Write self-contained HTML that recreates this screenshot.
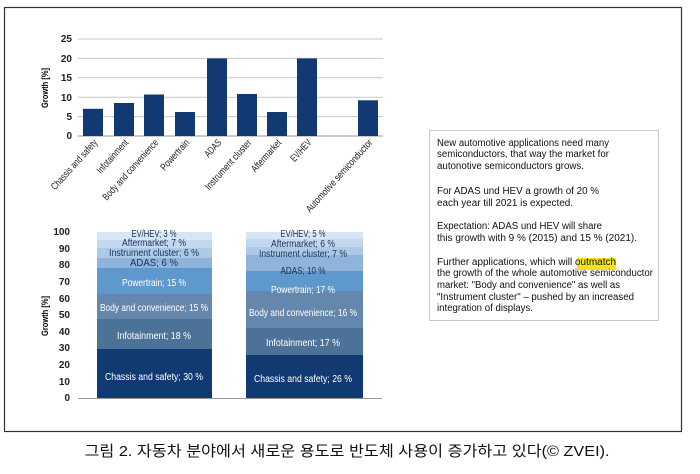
<!DOCTYPE html>
<html><head><meta charset="utf-8"><style>
html,body{margin:0;padding:0;background:#fff;width:700px;height:474px;overflow:hidden}
svg{display:block}
text{font-family:"Liberation Sans",sans-serif}
</style></head><body>
<svg width="700" height="474" viewBox="0 0 700 474" xmlns="http://www.w3.org/2000/svg">
<rect x="4.5" y="7.5" width="677" height="424" fill="#fff" stroke="#333" stroke-width="1.2"/>
<g stroke="#c8c8c8" stroke-width="1">
<line x1="78" y1="39" x2="383" y2="39"/><line x1="78" y1="58.4" x2="383" y2="58.4"/>
<line x1="78" y1="77.8" x2="383" y2="77.8"/><line x1="78" y1="97.2" x2="383" y2="97.2"/>
<line x1="78" y1="116.6" x2="383" y2="116.6"/></g>
<line x1="78" y1="136" x2="383" y2="136" stroke="#999" stroke-width="1"/>
<g font-size="10" font-weight="bold" fill="#222" text-anchor="end">
<text x="72" y="42">25</text><text x="72" y="62">20</text><text x="72" y="81">15</text>
<text x="72" y="101">10</text><text x="72" y="120">5</text><text x="72" y="139">0</text></g>
<text transform="translate(48,88) rotate(-90)" font-size="9" font-weight="bold" text-anchor="middle" textLength="40" lengthAdjust="spacingAndGlyphs">Growth [%]</text>
<g fill="#123a72">
<rect x="83" y="108.8" width="20" height="27.2"/>
<rect x="114" y="103" width="20" height="33"/>
<rect x="144" y="94.5" width="20" height="41.5"/>
<rect x="175" y="112" width="20" height="24"/>
<rect x="207" y="58.4" width="20" height="77.6"/>
<rect x="237" y="94" width="20" height="42"/>
<rect x="267" y="112" width="20" height="24"/>
<rect x="297" y="58.4" width="20" height="77.6"/>
<rect x="358" y="100.3" width="20" height="35.7"/></g>
<g font-size="10" fill="#222" text-anchor="end">
<text transform="translate(98,143) rotate(-48)" textLength="64" lengthAdjust="spacingAndGlyphs">Chassis and safety</text>
<text transform="translate(129,143) rotate(-48)" textLength="42" lengthAdjust="spacingAndGlyphs">Infotainment</text>
<text transform="translate(159,143) rotate(-48)" textLength="78" lengthAdjust="spacingAndGlyphs">Body and convenience</text>
<text transform="translate(190,143) rotate(-48)" textLength="38" lengthAdjust="spacingAndGlyphs">Powertrain</text>
<text transform="translate(222,143) rotate(-48)" textLength="20" lengthAdjust="spacingAndGlyphs">ADAS</text>
<text transform="translate(252,143) rotate(-48)" textLength="64" lengthAdjust="spacingAndGlyphs">Instrument cluster</text>
<text transform="translate(282,143) rotate(-48)" textLength="40" lengthAdjust="spacingAndGlyphs">Aftermarket</text>
<text transform="translate(312,143) rotate(-48)" textLength="26" lengthAdjust="spacingAndGlyphs">EV/HEV</text>
<text transform="translate(373,143) rotate(-48)" textLength="94" lengthAdjust="spacingAndGlyphs">Automotive semiconductor</text></g>
<line x1="78" y1="398.5" x2="382" y2="398.5" stroke="#999"/>
<g font-size="10" font-weight="bold" fill="#222" text-anchor="end">
<text x="70" y="235">100</text><text x="70" y="252">90</text><text x="70" y="268">80</text>
<text x="70" y="285">70</text><text x="70" y="302">60</text><text x="70" y="318">50</text>
<text x="70" y="335">40</text><text x="70" y="351">30</text><text x="70" y="368">20</text>
<text x="70" y="385">10</text><text x="70" y="401">0</text></g>
<text transform="translate(48,316) rotate(-90)" font-size="9" font-weight="bold" text-anchor="middle" textLength="40" lengthAdjust="spacingAndGlyphs">Growth [%]</text>
<rect x="97" y="232" width="115" height="8" fill="#d6e6f5"/>
<rect x="97" y="240" width="115" height="8" fill="#c2d8ee"/>
<rect x="97" y="248" width="115" height="10" fill="#adc9e6"/>
<rect x="97" y="258" width="115" height="10" fill="#8fb4da"/>
<rect x="97" y="268" width="115" height="26" fill="#5f98cc"/>
<rect x="97" y="294" width="115" height="25" fill="#6587ab"/>
<rect x="97" y="319" width="115" height="30" fill="#4c7298"/>
<rect x="97" y="349" width="115" height="49" fill="#123a72"/>
<rect x="246" y="232" width="117" height="7" fill="#d6e6f5"/>
<rect x="246" y="239" width="117" height="8" fill="#c2d8ee"/>
<rect x="246" y="247" width="117" height="8" fill="#adc9e6"/>
<rect x="246" y="255" width="117" height="16" fill="#8fb4da"/>
<rect x="246" y="271" width="117" height="20" fill="#5f98cc"/>
<rect x="246" y="291" width="117" height="37" fill="#6587ab"/>
<rect x="246" y="328" width="117" height="27" fill="#4c7298"/>
<rect x="246" y="355" width="117" height="43" fill="#123a72"/>
<g font-size="10" text-anchor="middle">
<g fill="#1b2f5a">
<text x="154" y="237" textLength="45" lengthAdjust="spacingAndGlyphs">EV/HEV; 3 %</text>
<text x="154" y="246" textLength="64" lengthAdjust="spacingAndGlyphs">Aftermarket; 7 %</text>
<text x="154" y="256" textLength="90" lengthAdjust="spacingAndGlyphs">Instrument cluster; 6 %</text>
<text x="154" y="266" textLength="48" lengthAdjust="spacingAndGlyphs">ADAS; 6 %</text>
<text x="303" y="237" textLength="45" lengthAdjust="spacingAndGlyphs">EV/HEV; 5 %</text>
<text x="303" y="247" textLength="64" lengthAdjust="spacingAndGlyphs">Aftermarket; 6 %</text>
<text x="303" y="257" textLength="88" lengthAdjust="spacingAndGlyphs">Instrument cluster; 7 %</text>
<text x="303" y="274" textLength="45" lengthAdjust="spacingAndGlyphs">ADAS; 10 %</text></g>
<g fill="#fff">
<text x="154" y="286" textLength="64" lengthAdjust="spacingAndGlyphs">Powertrain; 15 %</text>
<text x="154" y="311" textLength="108" lengthAdjust="spacingAndGlyphs">Body and convenience; 15 %</text>
<text x="154" y="339" textLength="74" lengthAdjust="spacingAndGlyphs">Infotainment; 18 %</text>
<text x="154" y="380" textLength="98" lengthAdjust="spacingAndGlyphs">Chassis and safety; 30 %</text>
<text x="303" y="293" textLength="64" lengthAdjust="spacingAndGlyphs">Powertrain; 17 %</text>
<text x="303" y="316" textLength="108" lengthAdjust="spacingAndGlyphs">Body and convenience; 16 %</text>
<text x="303" y="346" textLength="74" lengthAdjust="spacingAndGlyphs">Infotainment; 17 %</text>
<text x="303" y="382" textLength="98" lengthAdjust="spacingAndGlyphs">Chassis and safety; 26 %</text></g></g>
<rect x="429.5" y="130.5" width="229" height="190" fill="#fff" stroke="#c8c8c8"/>
<rect x="577" y="258" width="39" height="12" fill="#f6e21a"/>
<g font-size="10" fill="#111">
<text x="437" y="146" textLength="172" lengthAdjust="spacingAndGlyphs">New automotive applications need many</text>
<text x="437" y="157" textLength="172" lengthAdjust="spacingAndGlyphs">semiconductors, that way the market for</text>
<text x="437" y="169" textLength="147" lengthAdjust="spacingAndGlyphs">autonotive semiconductors grows.</text>
<text x="437" y="194" textLength="162" lengthAdjust="spacingAndGlyphs">For ADAS und HEV  a growth of 20 %</text>
<text x="437" y="206" textLength="136" lengthAdjust="spacingAndGlyphs">each year till 2021 is expected.</text>
<text x="437" y="229" textLength="165" lengthAdjust="spacingAndGlyphs">Expectation: ADAS und HEV will share</text>
<text x="437" y="241" textLength="200" lengthAdjust="spacingAndGlyphs">this growth with 9 % (2015) and 15 % (2021).</text>
<text x="437" y="265" textLength="179" lengthAdjust="spacingAndGlyphs">Further applications, which will outmatch</text>
<text x="437" y="276" textLength="216" lengthAdjust="spacingAndGlyphs">the growth of the whole automotive semiconductor</text>
<text x="437" y="288" textLength="183" lengthAdjust="spacingAndGlyphs">market: "Body and convenience" as well as</text>
<text x="437" y="300" textLength="197" lengthAdjust="spacingAndGlyphs">"Instrument cluster" – pushed by an increased</text>
<text x="437" y="311" textLength="96" lengthAdjust="spacingAndGlyphs">integration of displays.</text></g>
<text x="347" y="456" font-size="15" text-anchor="middle" fill="#111" style='font-family:"Liberation Sans","Noto Sans CJK KR",sans-serif' textLength="525" lengthAdjust="spacingAndGlyphs">그림 2. 자동차 분야에서 새로운 용도로 반도체 사용이 증가하고 있다(© ZVEI).</text>
</svg>
</body></html>
